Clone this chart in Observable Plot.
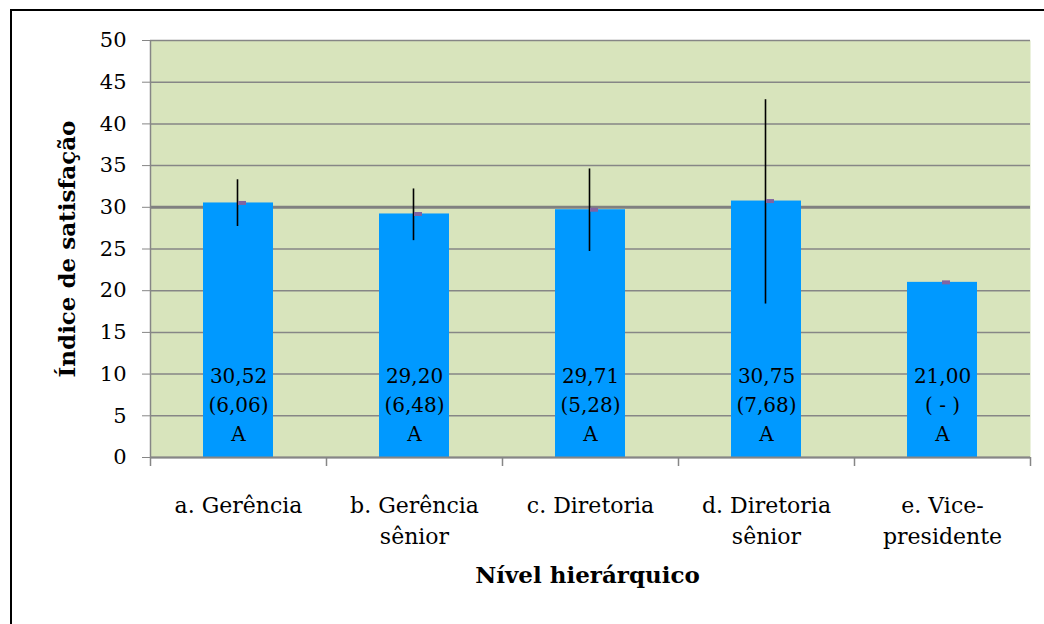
<!DOCTYPE html>
<html><head><meta charset="utf-8">
<script src="https://cdn.jsdelivr.net/npm/d3@7"></script>
<script src="https://cdn.jsdelivr.net/npm/@observablehq/plot@0.6"></script>
<style>
html,body{margin:0;padding:0;background:#fff;overflow:hidden;}
#wrap{position:relative;width:1044px;height:624px;overflow:hidden;}
#border{position:absolute;left:10px;top:9px;width:1100px;height:700px;border:2.5px solid #000;}
#chart{position:absolute;left:0;top:0;}
</style></head><body>
<div id="wrap"><div id="border"></div><div id="chart"></div></div>
<script>
const categories = ["a", "b", "c", "d", "e"];
const categoryLabels = ["a. Gerência", "b. Gerência\nsênior", "c. Diretoria", "d. Diretoria\nsênior", "e. Vice-\npresidente"];
const means = [30.52, 29.20, 29.71, 30.75, 21.00];
const meanLabels = ["30,52", "29,20", "29,71", "30,75", "21,00"];
const sdLabels = ["(6,06)", "(6,48)", "(5,28)", "(7,68)", "( - )"];
const groupLetters = ["A", "A", "A", "A", "A"];
const errLow = [27.7, 26.0, 24.7, 18.4, null];
const errHigh = [33.3, 32.2, 34.6, 42.9, null];
const yTicks = [0, 5, 10, 15, 20, 25, 30, 35, 40, 45, 50];
const referenceLine = [30];
const yTitle = "Índice de satisfação";
const xTitle = "Nível hierárquico";

const rows = categories.map((c, i) => ({
  cat: c, label: categoryLabels[i], mean: means[i],
  text: meanLabels[i] + "\n" + sdLabels[i] + "\n" + groupLetters[i],
  low: errLow[i], high: errHigh[i]
}));
const withErr = rows.filter(d => d.low != null);
const serif = "DejaVu Serif";
const grid = "#868686";

const chart = Plot.plot({
  width: 1044, height: 624,
  marginLeft: 150, marginRight: 14, marginTop: 40, marginBottom: 167,
  style: {fontFamily: serif, background: "transparent", color: "#000", overflow: "visible"},
  x: {type: "band", domain: categories, paddingInner: 0.6, paddingOuter: 0.3, axis: null},
  y: {domain: [0, 50], axis: null},
  marks: [
    Plot.frame({fill: "#D8E4BC", stroke: null}),
    Plot.gridY(yTicks, {stroke: grid, strokeOpacity: 1, strokeWidth: 1.5}),
    Plot.ruleY(referenceLine, {stroke: "#808080", strokeWidth: 3}),
    Plot.axisY({ticks: yTicks, tickSize: 8, tickPadding: 16, stroke: grid, fontSize: 21, fontFamily: serif, label: null}),
    Plot.barY(rows, {x: "cat", y: "mean", fill: "#0099FF"}),
    Plot.ruleX(withErr, {x: "cat", y1: "low", y2: "high", stroke: "#000", strokeWidth: 1.6, dx: -1}),
    Plot.tickY(rows, {x: "cat", y: "mean", stroke: "#8064A2", strokeWidth: 4, insetLeft: 35, insetRight: 27}),
    Plot.text(rows, {x: "cat", y: 0, text: "text", lineAnchor: "bottom", dy: -17, fontSize: 20, fontFamily: serif, lineHeight: 1.45, fill: "#000"}),
    Plot.ruleY([0], {stroke: grid, strokeWidth: 2}),
    Plot.ruleX([categories[0]], {x: d => d, dx: -88, stroke: grid, strokeWidth: 1.5, insetBottom: -9}),
    Plot.ruleX(categories.slice(1), {x: d => d, dx: -88, stroke: grid, strokeWidth: 1.5, insetTop: 417, insetBottom: -9}),
    Plot.ruleX([categories[categories.length - 1]], {x: d => d, dx: 88, stroke: grid, strokeWidth: 1.5, insetTop: 417, insetBottom: -9}),
    Plot.text(rows, {x: "cat", text: "label", frameAnchor: "bottom", lineAnchor: "top", dy: 34, fontSize: 22, fontFamily: serif, lineHeight: 1.4, fill: "#000"}),
    Plot.text([yTitle], {text: d => d, frameAnchor: "left", textAnchor: "middle", dx: -83, rotate: -90, fontWeight: "bold", fontSize: 23, fontFamily: serif, fill: "#000"}),
    Plot.text([xTitle], {text: d => d, frameAnchor: "bottom", dy: 125, dx: -3, fontWeight: "bold", fontSize: 23, fontFamily: serif, fill: "#000"})
  ]
});
document.getElementById("chart").appendChild(chart);
</script>
</body></html>
